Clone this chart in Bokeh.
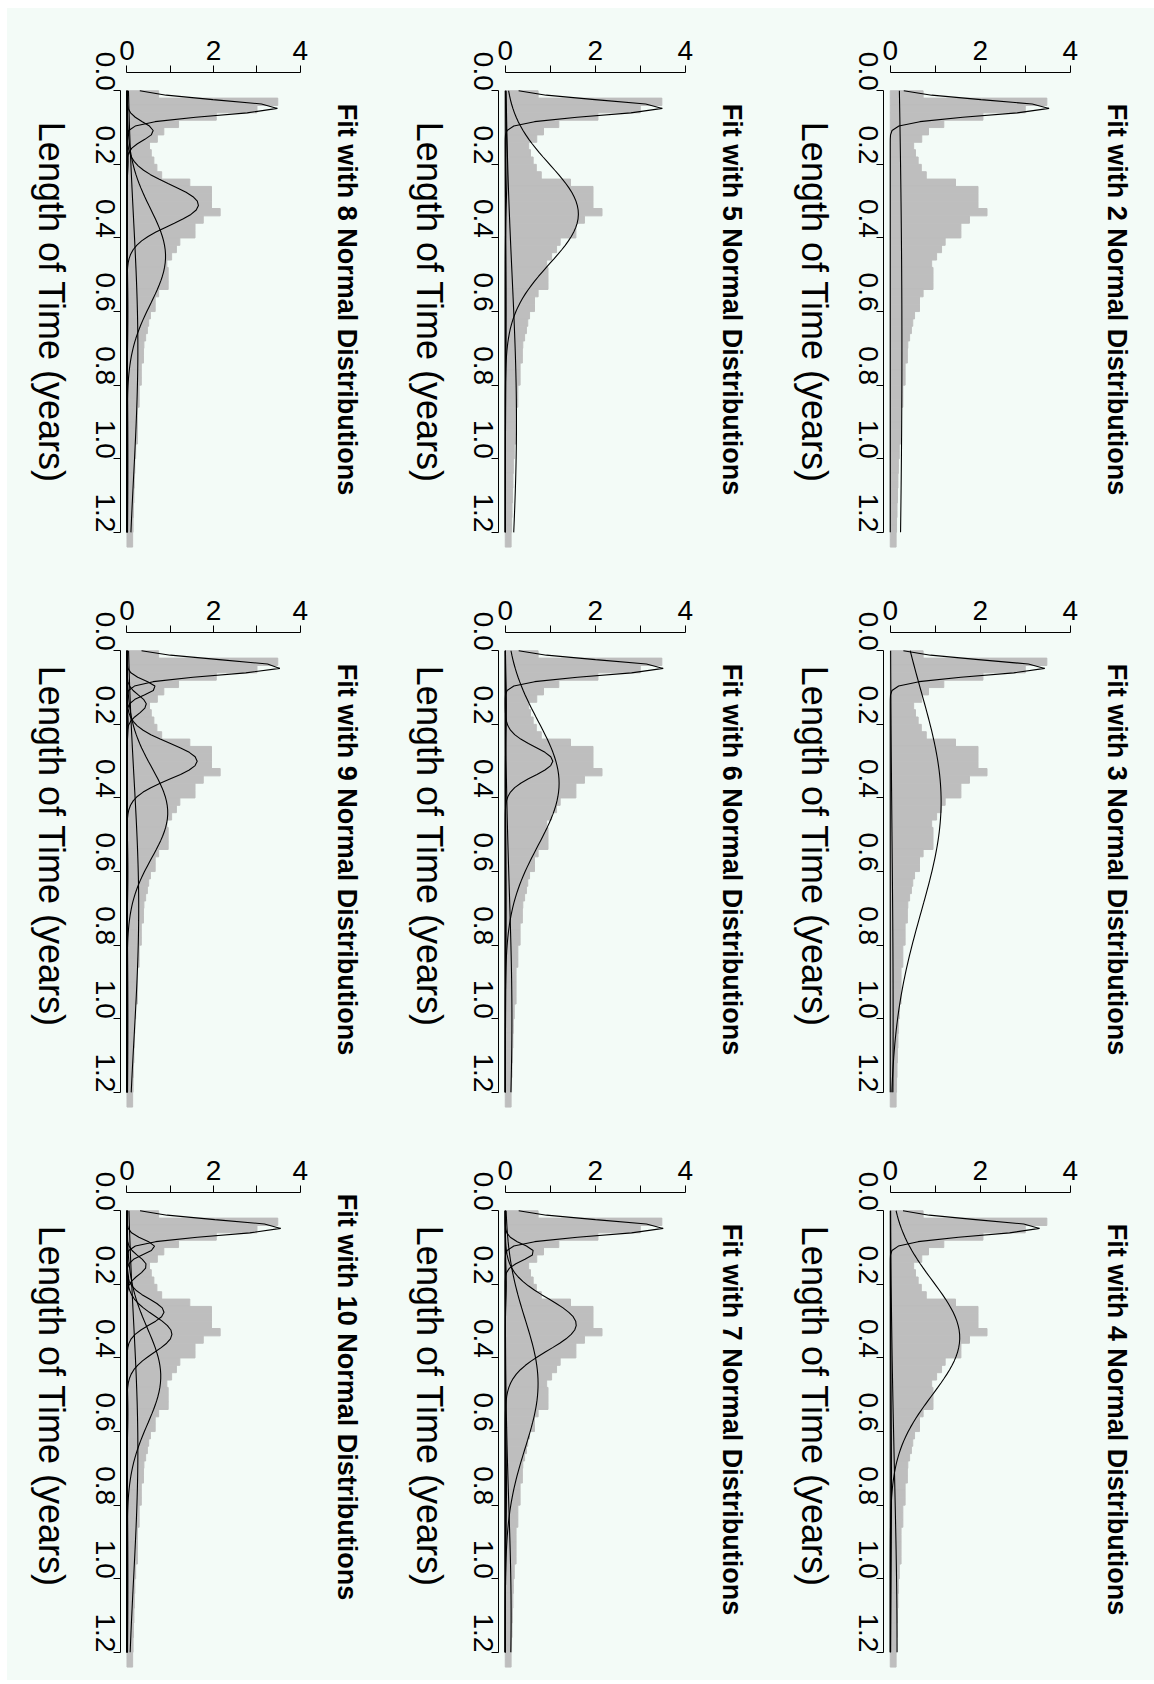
import math
import numpy as np
from bokeh.plotting import figure
from bokeh.models import Range1d, FixedTicker, PrintfTickFormatter, ColumnDataSource, LinearAxis
from bokeh.layouts import column, row
from bokeh.embed import file_html
from bokeh.resources import INLINE

BG = "#f3fbf7"
BAR = "#bebebe"
FONT = "Liberation Sans"

# ---------------- data ----------------
bin_width = 0.02
hist_density = [0.73, 3.48, 3.00, 2.06, 1.19, 0.85, 0.70, 0.52, 0.56, 0.62,
                0.69, 0.80, 1.45, 1.95, 1.95, 1.95, 2.15, 1.76, 1.57, 1.57,
                1.22, 1.14, 1.03, 0.92, 0.95, 0.95, 0.95, 0.73, 0.65, 0.65,
                0.54, 0.50, 0.47, 0.43, 0.39, 0.38, 0.38, 0.33, 0.33, 0.33,
                0.28, 0.28, 0.28, 0.24, 0.24, 0.24, 0.24, 0.24, 0.20, 0.20,
                0.18, 0.18, 0.17, 0.17, 0.16, 0.16, 0.15, 0.15, 0.14, 0.14,
                0.13, 0.13]
time_ticks = [0.0, 0.2, 0.4, 0.6, 0.8, 1.0, 1.2]
density_ticks = [0, 1, 2, 3, 4]
density_hidden = {1: "", 3: ""}
time_label = "Length of Time (years)"
time_label_at = 0.449     # anchor of the axis title along the time axis
title_at = 0.39           # anchor of the panel title along the time axis

# fitted components: (mean, sd, weight)
fit2 = [(0.046, 0.0207, 0.184), (0.70, 1.00, 0.65)]
fit3 = [(0.046, 0.0207, 0.179), (0.41, 0.30, 0.85), (1.00, 0.50, 0.08)]
fit4 = [(0.046, 0.0207, 0.173), (0.345, 0.155, 0.60), (1.20, 0.50, 0.19),
        (0.75, 0.30, 0.02)]
fit5 = [(0.046, 0.0207, 0.182), (0.335, 0.135, 0.55), (0.90, 0.40, 0.25),
        (0.20, 0.10, 0.01), (0.60, 0.20, 0.01)]
fit6 = [(0.046, 0.0207, 0.183), (0.36, 0.17, 0.51), (0.30, 0.04, 0.106),
        (1.00, 0.35, 0.13), (0.15, 0.08, 0.005), (0.70, 0.20, 0.01)]
fit7 = [(0.046, 0.0207, 0.183), (0.113, 0.022, 0.035), (0.47, 0.175, 0.32),
        (0.309, 0.07, 0.277), (1.10, 0.30, 0.098), (0.20, 0.05, 0.003),
        (0.75, 0.15, 0.01)]
fit8 = [(0.046, 0.0207, 0.181), (0.11, 0.025, 0.038), (0.31, 0.055, 0.2275),
        (0.45, 0.13, 0.29), (0.70, 0.35, 0.22), (0.19, 0.03, 0.002),
        (0.60, 0.10, 0.005), (1.00, 0.20, 0.01)]
fit9 = [(0.045, 0.0207, 0.185), (0.10, 0.02, 0.033), (0.146, 0.025, 0.028),
        (0.30, 0.049, 0.199), (0.44, 0.123, 0.29), (0.70, 0.35, 0.237),
        (0.20, 0.03, 0.002), (0.60, 0.08, 0.004), (1.00, 0.20, 0.01)]
fit10 = [(0.046, 0.0207, 0.185), (0.098, 0.02, 0.032), (0.149, 0.025, 0.028),
         (0.275, 0.035, 0.075), (0.335, 0.05, 0.13), (0.45, 0.13, 0.254),
         (0.65, 0.35, 0.22), (0.19, 0.02, 0.002), (0.55, 0.06, 0.003),
         (1.00, 0.20, 0.01)]
fits = {2: fit2, 3: fit3, 4: fit4, 5: fit5, 6: fit6, 7: fit7, 8: fit8, 9: fit9, 10: fit10}

# the picture is the R figure turned a quarter turn: panel order as shown
grid_k = [[8, 5, 2], [9, 6, 3], [10, 7, 4]]

curve_t = np.linspace(0.0, 1.2, 101)   # evaluation grid of the curves

hist_top = [i * bin_width for i in range(len(hist_density))]
hist_bottom = [(i + 1) * bin_width for i in range(len(hist_density))]
hist_src = dict(left=[0.0] * len(hist_density), right=hist_density,
                top=hist_top, bottom=hist_bottom)


def normal_curve(m, s, w):
    return w * np.exp(-0.5 * ((curve_t - m) / s) ** 2) / (s * math.sqrt(2 * math.pi))


col_w = [378, 385, 384]
col_mbl = [106, 113, 113]
row_h = [552, 560, 560]
row_mbt = [64, 72, 72]
PX_PER_DENS = 45.0
PX_PER_T = 368.0
FRAME_W = 188
FRAME_H = 486
X0 = -0.15
X1 = X0 + FRAME_W / PX_PER_DENS
Y_TOP = -0.0496
Y_BOT = Y_TOP + FRAME_H / PX_PER_T


def style_labels(ax, size, standoff):
    ax.major_label_text_font = FONT
    ax.major_label_text_font_size = size
    ax.major_label_text_color = "black"
    ax.major_label_standoff = standoff


def bare_axis(tick, text):
    ax = LinearAxis(ticker=FixedTicker(ticks=[tick]), major_label_overrides={tick: text})
    ax.axis_line_color = None
    ax.major_tick_line_color = None
    ax.minor_tick_line_color = None
    ax.major_tick_out = 0
    ax.major_tick_in = 0
    ax.major_label_orientation = -math.pi / 2
    return ax


def make_panel(k, ci, ri):
    w = col_w[ci]
    h = row_h[ri]
    p = figure(width=w, height=h, output_backend="svg", toolbar_location=None,
               x_range=Range1d(X0, X1), y_range=Range1d(Y_BOT, Y_TOP),
               x_axis_location="above", y_axis_location="left",
               min_border_left=col_mbl[ci], min_border_right=w - col_mbl[ci] - FRAME_W,
               min_border_top=row_mbt[ri], min_border_bottom=h - row_mbt[ri] - FRAME_H)
    p.background_fill_color = BG
    p.border_fill_color = BG
    p.outline_line_color = None
    p.xgrid.grid_line_color = None
    p.ygrid.grid_line_color = None

    p.quad(left="left", right="right", top="top", bottom="bottom",
           source=ColumnDataSource(hist_src), fill_color=BAR,
           line_color=BAR, line_width=1)
    for (m, s, wt) in fits[k]:
        p.line(x=normal_curve(m, s, wt), y=curve_t, line_color="black", line_width=1.1)

    xa = p.xaxis[0]
    xa.ticker = FixedTicker(ticks=density_ticks)
    xa.major_label_overrides = density_hidden
    xa.bounds = (0, 4)
    xa.minor_tick_line_color = None
    xa.major_tick_out = 7
    xa.major_tick_in = 0
    xa.axis_line_color = "black"
    xa.major_tick_line_color = "black"
    style_labels(xa, "28px", 6)

    ya = p.yaxis[0]
    ya.ticker = FixedTicker(ticks=time_ticks)
    ya.formatter = PrintfTickFormatter(format="%.1f")
    ya.bounds = (0, 1.2)
    ya.minor_tick_line_color = None
    ya.major_tick_out = 7
    ya.major_tick_in = 0
    ya.major_label_orientation = -math.pi / 2
    ya.axis_line_color = "black"
    ya.major_tick_line_color = "black"
    style_labels(ya, "28px", 8)

    # axis title, written as the single label of a bare outer axis
    la = bare_axis(time_label_at, time_label)
    style_labels(la, "36px", 32)
    p.add_layout(la, "left")

    # panel title on the right side, reading downwards like the rest of the page
    ta = bare_axis(title_at, f"Fit with {k} Normal Distributions")
    style_labels(ta, "27px", 45)
    ta.major_label_text_font_style = "bold"
    p.add_layout(ta, "right")
    return p


rows = []
for ri in range(3):
    rows.append(row(*[make_panel(grid_k[ri][ci], ci, ri) for ci in range(3)],
                    styles={"background-color": BG}))
layout = column(*rows, margin=(8, 0, 0, 7), styles={"background-color": BG})

with open("out.html", "w") as f:
    f.write(file_html(layout, INLINE, title="Normal mixture fits"))
